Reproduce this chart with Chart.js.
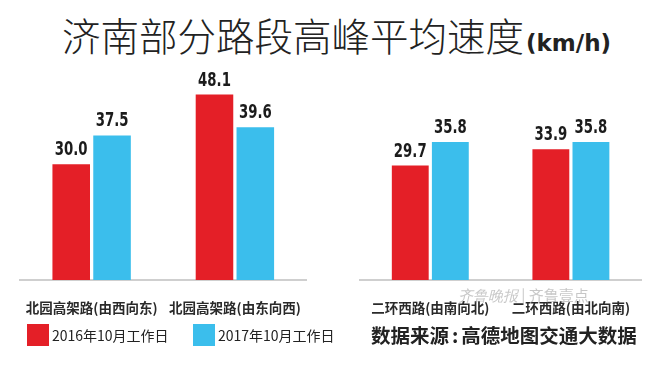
<!DOCTYPE html>
<html>
<head>
<meta charset="utf-8">
<script src="https://cdn.jsdelivr.net/npm/chart.js@4.4.1/dist/chart.umd.min.js"></script>
<style>
    body { margin: 0; width: 650px; height: 366px; background: #fff; position: relative; overflow: hidden;
           font-family: "Noto Sans CJK SC", sans-serif; color: #222; }
    .title { position: absolute; left: 62px; top: 12px; font-size: 38.5px; line-height: 44px; font-weight: 300; white-space: nowrap; color: #222; }
    .title .unit { font-family: "DejaVu Sans", sans-serif; font-weight: bold; font-size: 23px; margin-left: 2px; }
    canvas { position: absolute; }
    #leftChart { left: 0; top: 60px; }
    #rightChart { left: 325px; top: 60px; }
    .legend { position: absolute; top: 324px; height: 22px; display: flex; align-items: center; font-size: 14px; white-space: nowrap; }
    .legend i { display: inline-block; width: 22px; height: 22px; margin-right: 3px; }
    .source { position: absolute; left: 371px; top: 321px; font-size: 19.5px; line-height: 28px; font-weight: bold; color: #222; white-space: nowrap; }
    .mark { position: absolute; left: 458px; top: 284px; font-size: 15px; color: rgba(130,130,130,0.45); white-space: nowrap; }
</style>
</head>
<body>
<div class="title">济南部分路段高峰平均速度<span class="unit">(km/h)</span></div>
<canvas id="leftChart" width="325" height="280"></canvas>
<canvas id="rightChart" width="325" height="280"></canvas>
<div id="legend"></div>
<div class="source">数据来源<span style="margin:0 3px">:</span>高德地图交通大数据</div>
<div class="mark"><span style="font-style:italic;font-family:'DejaVu Serif',serif">齐鲁晚报</span> | 齐鲁壹点</div>
<script>
// 数据
const leftRoads = ['北园高架路(由西向东)', '北园高架路(由东向西)'];
const rightRoads = ['二环西路(由南向北)', '二环西路(由北向南)'];
const seriesNames = ['2016年10月工作日', '2017年10月工作日'];
const speed2016Left = [30.0, 48.1];
const speed2017Left = [37.5, 39.6];
const speed2016Right = [29.7, 33.9];
const speed2017Right = [35.8, 35.8];

const colors = ['#E41F27', '#3BBEEC'];

// 柱顶数值（压窄的粗体）
const valueLabels = {
    id: 'valueLabels',
    afterDatasetsDraw(chart) {
        const ctx = chart.ctx;
        chart.data.datasets.forEach((ds, i) => {
            chart.getDatasetMeta(i).data.forEach((bar, j) => {
                ctx.save();
                ctx.font = 'bold 19px "DejaVu Sans", sans-serif';
                ctx.fillStyle = '#1b1b1b';
                ctx.textAlign = 'center';
                ctx.textBaseline = 'alphabetic';
                ctx.translate(bar.x, bar.y - 9);
                ctx.scale(0.7, 1);
                ctx.fillText(ds.data[j].toFixed(1), 0, 0);
                ctx.restore();
            });
        });
    }
};

function makeChart(id, roads, d2016, d2017, padLeft, padRight) {
    return new Chart(document.getElementById(id), {
        type: 'bar',
        data: {
            labels: roads,
            datasets: [
                { label: seriesNames[0], data: d2016, backgroundColor: colors[0] },
                { label: seriesNames[1], data: d2017, backgroundColor: colors[1] }
            ]
        },
        options: {
            responsive: false,
            animation: false,
            devicePixelRatio: 1,
            layout: { padding: { top: 8, left: padLeft, right: padRight, bottom: 0 } },
            datasets: { bar: { barPercentage: 0.92, categoryPercentage: 0.57 } },
            plugins: { legend: { display: false }, tooltip: { enabled: false } },
            scales: {
                x: {
                    grid: { display: false, drawTicks: false },
                    border: { color: '#cfcfcf', width: 2 },
                    ticks: {
                        color: '#2a2a2a',
                        padding: 20,
                        maxRotation: 0,
                        autoSkip: false,
                        font: { family: '"Noto Sans CJK SC", sans-serif', size: 13.5, weight: 'bold' }
                    },
                    afterFit(scale) { scale.height = 60; }
                },
                y: { display: false, min: 0, max: 55 }
            }
        },
        plugins: [valueLabels]
    });
}

makeChart('leftChart', leftRoads, speed2016Left, speed2017Left, 20, 17);
makeChart('rightChart', rightRoads, speed2016Right, speed2017Right, 35, 0);

// 图例
const legendBox = document.getElementById('legend');
const legendX = [27, 193];
seriesNames.forEach((name, i) => {
    const item = document.createElement('div');
    item.className = 'legend';
    item.style.left = legendX[i] + 'px';
    item.innerHTML = '<i style="background:' + colors[i] + '"></i>' + name;
    legendBox.appendChild(item);
});
</script>
</body>
</html>
